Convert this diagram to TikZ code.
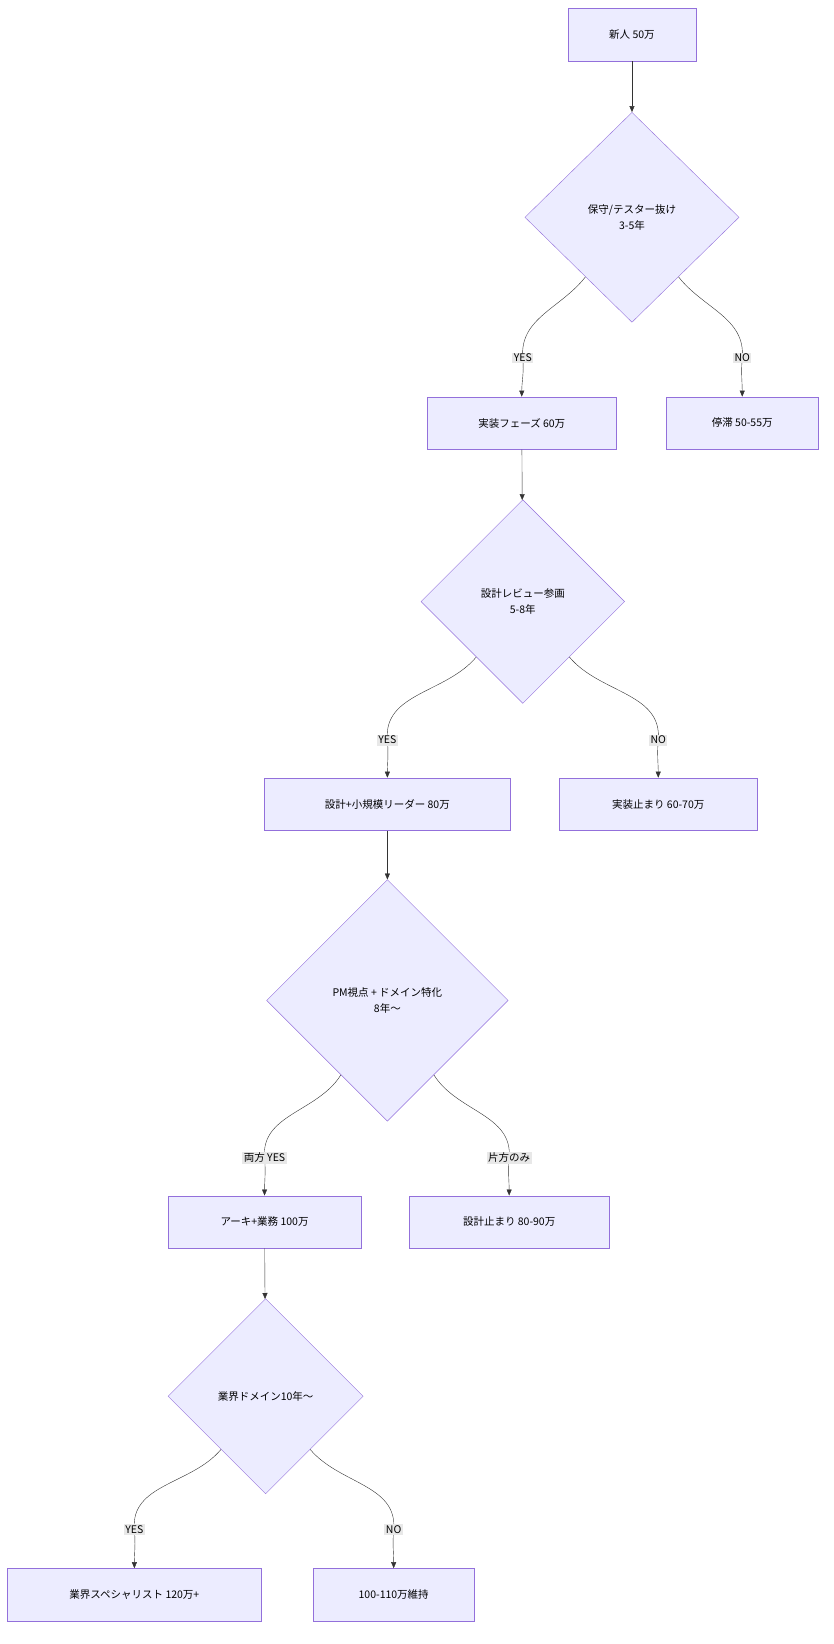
\documentclass[tikz,border=0pt]{standalone}
\usepackage{fontspec}
\setmainfont{Noto Sans CJK JP}
\usetikzlibrary{shapes.geometric, arrows.meta, positioning}
\definecolor{boxfill}{HTML}{ECECFF}
\definecolor{boxline}{HTML}{9370DB}
\definecolor{edgeline}{HTML}{333333}
\definecolor{lblfill}{HTML}{E8E8E8}
\def\pxu{1.05pt}
\tikzset{
  stage/.style={draw=boxline, fill=boxfill, minimum height=50*\pxu, inner sep=2pt, font=\fontsize{10.5}{13}\selectfont},
  check/.style={diamond, draw=boxline, fill=boxfill, inner sep=0pt, align=center, font=\fontsize{10.5}{16}\selectfont},
  lbl/.style={fill=lblfill, inner sep=1.5pt, font=\fontsize{10.5}{13}\selectfont},
  flow/.style={draw=edgeline, -{Triangle[length=6pt,width=5pt]}},
}
\begin{document}
\begin{tikzpicture}[x=\pxu, y=-\pxu]
    \useasboundingbox (0,0) rectangle (794,1566);

    % Nodes
    \node[stage, minimum width=122*\pxu] (newbie) at (602,33) {新人 50万};
    \node[check, minimum width=204*\pxu, minimum height=200*\pxu] (qmaint) at (602,207) {保守/テスター抜け\\3-5年};
    \node[stage, minimum width=180*\pxu] (impl) at (497,403) {実装フェーズ 60万};
    \node[stage, minimum width=144*\pxu] (stall) at (707,403) {停滞 50-55万};
    \node[check, minimum width=194*\pxu, minimum height=194*\pxu] (qreview) at (498,573) {設計レビュー参画\\5-8年};
    \node[stage, minimum width=234*\pxu] (lead) at (369,766) {設計+小規模リーダー 80万};
    \node[stage, minimum width=188*\pxu] (implstop) at (627,766) {実装止まり 60-70万};
    \node[check, minimum width=230*\pxu, minimum height=230*\pxu] (qpm) at (369,953) {PM視点 + ドメイン特化\\8年〜};
    \node[stage, minimum width=184*\pxu] (arch) at (252,1164) {アーキ+業務 100万};
    \node[stage, minimum width=190*\pxu] (designstop) at (485,1164) {設計止まり 80-90万};
    \node[check, minimum width=186*\pxu, minimum height=186*\pxu] (qdomain) at (253,1330) {業界ドメイン10年〜};
    \node[stage, minimum width=242*\pxu] (spec) at (128,1519) {業界スペシャリスト 120万+};
    \node[stage, minimum width=154*\pxu] (keep) at (375,1519) {100-110万維持};

    % Label anchors
    \coordinate (c1) at (498,341);
    \coordinate (c2) at (707,341);
    \coordinate (c3) at (369,705);
    \coordinate (c4) at (627,705);
    \coordinate (c5) at (252,1103);
    \coordinate (c6) at (485,1103);
    \coordinate (c7) at (128,1457);
    \coordinate (c8) at (375,1457);

    % Connectors
    \draw[flow] (newbie) -- (qmaint);
    \draw[flow] (qmaint) to[out=-128,in=95] (c1) to[out=-85,in=90] (impl);
    \draw[flow] (qmaint) to[out=-52,in=85] (c2) to[out=-95,in=90] (stall);
    \draw[flow] (impl) -- (qreview);
    \draw[flow] (qreview) to[out=-130,in=95] (c3) to[out=-85,in=90] (lead);
    \draw[flow] (qreview) to[out=-50,in=85] (c4) to[out=-95,in=90] (implstop);
    \draw[flow] (lead) -- (qpm);
    \draw[flow] (qpm) to[out=-122,in=95] (c5) to[out=-85,in=90] (arch);
    \draw[flow] (qpm) to[out=-58,in=85] (c6) to[out=-95,in=90] (designstop);
    \draw[flow] (arch) -- (qdomain);
    \draw[flow] (qdomain) to[out=-130,in=95] (c7) to[out=-85,in=90] (spec);
    \draw[flow] (qdomain) to[out=-50,in=85] (c8) to[out=-95,in=90] (keep);

    % Edge labels
    \node[lbl] (yes1) at (c1) {YES};
    \node[lbl] (no1) at (c2) {NO};
    \node[lbl] (yes2) at (c3) {YES};
    \node[lbl] (no2) at (c4) {NO};
    \node[lbl] (both) at (c5) {両方 YES};
    \node[lbl] (one) at (c6) {片方のみ};
    \node[lbl] (yes3) at (c7) {YES};
    \node[lbl] (no3) at (c8) {NO};
\end{tikzpicture}
\end{document}
